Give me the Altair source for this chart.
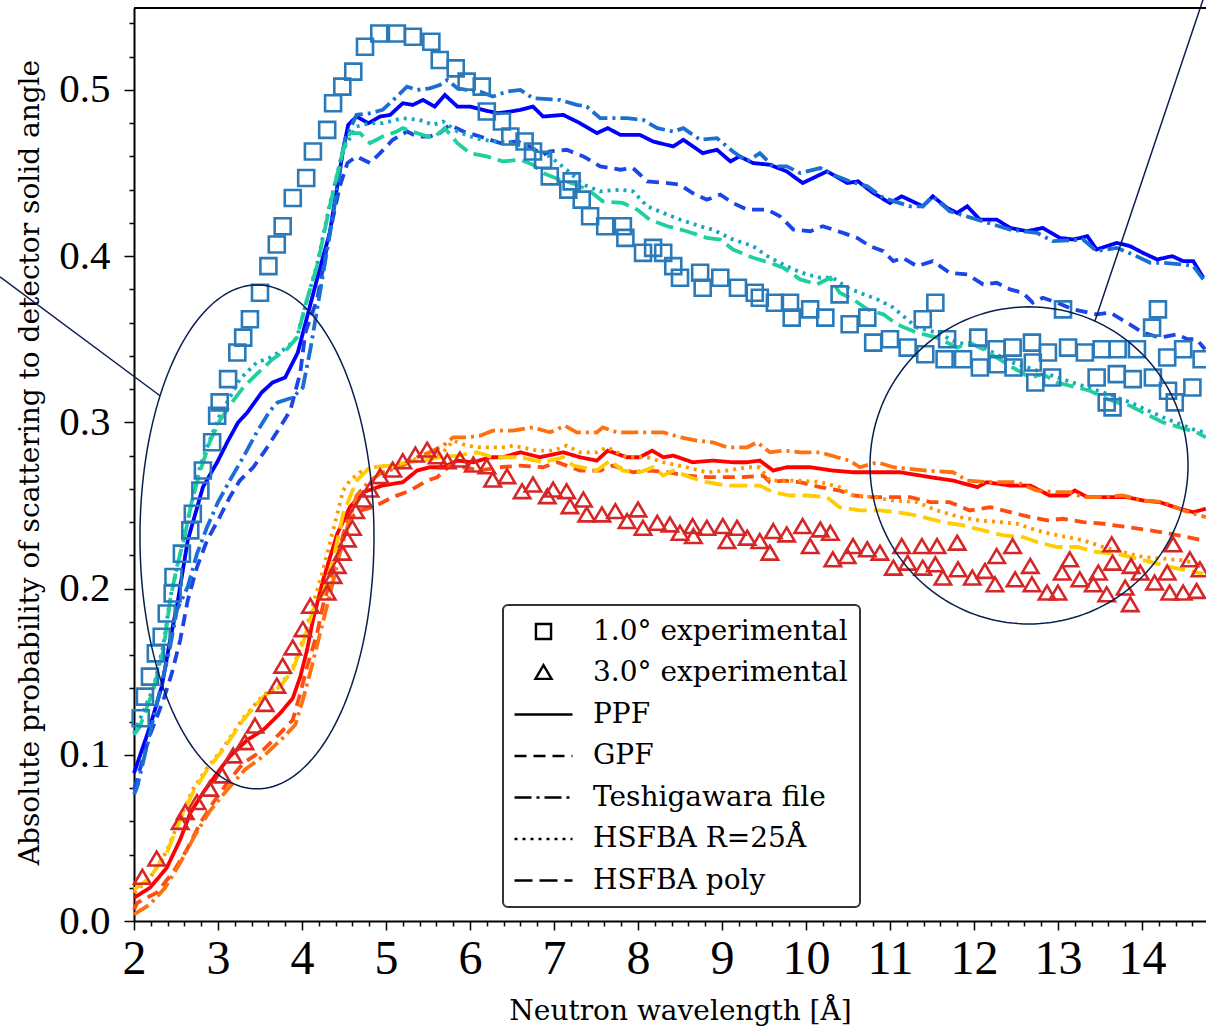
import math
import altair as alt
import pandas as pd

# ---------------- axes ----------------
X_DOMAIN = [2.0, 14.762]
Y_DOMAIN = [0.0, 0.5493]
X_TICKS = [round(2 + 0.2 * i, 1) for i in range(64)]      # 2.0 ... 14.6 (majors every 1)
Y_TICKS = [round(0.02 * i, 2) for i in range(28)]         # 0.00 ... 0.54 (majors every 0.1)
X_TITLE = "Neutron wavelength [Å]"
Y_TITLE = "Absolute probability of scattering to detector solid angle"

LEGEND_ORDER = ["1.0° experimental", "3.0° experimental", "PPF", "GPF",
                "Teshigawara file", "HSFBA R=25Å", "HSFBA poly"]
DASHES = [[1, 0], [1, 0], [1, 0], [12, 7], [17, 5, 3, 5], [3, 5], [18, 7]]
SHAPES = ["M-0.58,-0.58H0.58V0.58H-0.58Z", "M0,-0.6L0.62,0.45L-0.62,0.45Z",
          "M-2.23,0H2.23", "M-2.23,0H2.23", "M-2.23,0H2.23", "M-2.23,0H2.23", "M-2.23,0H2.23"]

# ---------------- data ----------------
SQUARES_1DEG = [
    (2.08, 0.122), (2.13, 0.135), (2.19, 0.147), (2.26, 0.161), (2.33, 0.171), (2.39, 0.185),
    (2.46, 0.197), (2.47, 0.207), (2.57, 0.221), (2.67, 0.235), (2.70, 0.245), (2.79, 0.259),
    (2.82, 0.271), (2.93, 0.288), (2.99, 0.304), (3.02, 0.312), (3.12, 0.326), (3.23, 0.342),
    (3.30, 0.351), (3.38, 0.362), (3.50, 0.378), (3.60, 0.394), (3.70, 0.407), (3.77, 0.418),
    (3.89, 0.435), (4.05, 0.447), (4.13, 0.463), (4.30, 0.476), (4.37, 0.492), (4.48, 0.502),
    (4.61, 0.511), (4.75, 0.526), (4.92, 0.534), (5.13, 0.534), (5.32, 0.532), (5.54, 0.529),
    (5.64, 0.518), (5.83, 0.513), (5.96, 0.505), (6.14, 0.502), (6.20, 0.487), (6.38, 0.481),
    (6.48, 0.472), (6.65, 0.469), (6.75, 0.463), (6.87, 0.458), (6.95, 0.448), (7.17, 0.440),
    (7.21, 0.445), (7.33, 0.434), (7.43, 0.424), (7.61, 0.418), (7.82, 0.418), (7.85, 0.411),
    (8.06, 0.402), (8.18, 0.405), (8.30, 0.402), (8.42, 0.394), (8.50, 0.387), (8.74, 0.390),
    (8.77, 0.381), (8.98, 0.387), (9.19, 0.381), (9.39, 0.378), (9.45, 0.375), (9.63, 0.372),
    (9.81, 0.372), (9.83, 0.363), (10.05, 0.368), (10.23, 0.363), (10.40, 0.377), (10.52, 0.359),
    (10.73, 0.363), (10.80, 0.348), (11.00, 0.350), (11.21, 0.345), (11.39, 0.362), (11.42, 0.341),
    (11.54, 0.372), (11.65, 0.338), (11.68, 0.350), (11.87, 0.338), (12.05, 0.351), (12.07, 0.333),
    (12.27, 0.344), (12.28, 0.335), (12.46, 0.345), (12.47, 0.333), (12.69, 0.348), (12.70, 0.336),
    (12.73, 0.324), (12.88, 0.342), (12.93, 0.327), (13.06, 0.368), (13.12, 0.345), (13.32, 0.342),
    (13.46, 0.327), (13.52, 0.344), (13.58, 0.312), (13.65, 0.309), (13.70, 0.329), (13.71, 0.344),
    (13.89, 0.326), (13.94, 0.344), (14.12, 0.357), (14.13, 0.327), (14.19, 0.368), (14.30, 0.339),
    (14.31, 0.319), (14.39, 0.312), (14.49, 0.344), (14.60, 0.321), (14.71, 0.338),
]

TRIANGLES_3DEG = [
    (2.10, 0.026), (2.27, 0.037), (2.55, 0.059), (2.61, 0.065), (2.75, 0.071), (2.90, 0.079),
    (3.05, 0.087), (3.18, 0.099), (3.32, 0.107), (3.44, 0.117), (3.56, 0.130), (3.70, 0.141),
    (3.77, 0.153), (3.89, 0.164), (4.01, 0.175), (4.10, 0.189), (4.30, 0.197), (4.37, 0.207),
    (4.42, 0.213), (4.48, 0.221), (4.54, 0.229), (4.60, 0.236), (4.64, 0.246), (4.73, 0.253),
    (4.81, 0.259), (4.93, 0.267), (5.08, 0.271), (5.20, 0.276), (5.35, 0.280), (5.49, 0.283),
    (5.61, 0.279), (5.73, 0.276), (5.88, 0.277), (6.04, 0.274), (6.20, 0.273), (6.27, 0.265),
    (6.44, 0.267), (6.62, 0.258), (6.75, 0.262), (6.92, 0.255), (6.99, 0.259), (7.15, 0.258),
    (7.19, 0.249), (7.35, 0.253), (7.39, 0.244), (7.57, 0.244), (7.73, 0.246), (7.87, 0.240),
    (8.00, 0.247), (8.06, 0.236), (8.23, 0.239), (8.38, 0.238), (8.50, 0.233), (8.65, 0.237),
    (8.66, 0.231), (8.82, 0.236), (9.01, 0.237), (9.06, 0.228), (9.18, 0.236), (9.30, 0.230),
    (9.45, 0.228), (9.57, 0.221), (9.61, 0.234), (9.77, 0.232), (9.96, 0.237), (10.05, 0.225),
    (10.17, 0.235), (10.29, 0.233), (10.32, 0.217), (10.49, 0.219), (10.56, 0.225), (10.73, 0.223),
    (10.88, 0.221), (11.04, 0.212), (11.14, 0.225), (11.21, 0.215), (11.38, 0.225), (11.39, 0.212),
    (11.56, 0.225), (11.54, 0.214), (11.63, 0.206), (11.80, 0.227), (11.81, 0.211), (11.98, 0.206),
    (12.13, 0.210), (12.25, 0.202), (12.27, 0.219), (12.46, 0.225), (12.49, 0.205), (12.67, 0.213),
    (12.69, 0.202), (12.87, 0.197), (13.00, 0.197), (13.05, 0.209), (13.14, 0.217), (13.26, 0.205),
    (13.42, 0.202), (13.48, 0.209), (13.58, 0.196), (13.64, 0.226), (13.65, 0.215), (13.80, 0.200),
    (13.86, 0.190), (13.87, 0.213), (13.98, 0.209), (14.15, 0.203), (14.30, 0.209), (14.33, 0.197),
    (14.37, 0.226), (14.49, 0.197), (14.57, 0.217), (14.65, 0.198), (14.69, 0.211),
]

B_PPF = [
    (2.00, 0.089), (2.19, 0.117), (2.33, 0.141), (2.43, 0.169), (2.52, 0.192), (2.64, 0.229),
    (2.73, 0.245), (2.82, 0.261), (2.99, 0.276), (3.12, 0.289), (3.24, 0.300), (3.35, 0.306),
    (3.52, 0.318), (3.65, 0.324), (3.80, 0.327), (3.95, 0.342), (4.10, 0.371), (4.21, 0.392),
    (4.33, 0.414), (4.49, 0.464), (4.55, 0.479), (4.65, 0.484), (4.79, 0.480), (4.93, 0.484),
    (5.05, 0.485), (5.20, 0.492), (5.32, 0.491), (5.44, 0.494), (5.58, 0.490), (5.70, 0.497),
    (5.85, 0.490), (6.00, 0.490), (6.15, 0.488), (6.33, 0.486), (6.48, 0.487), (6.60, 0.488),
    (6.75, 0.490), (6.87, 0.484), (7.11, 0.485), (7.31, 0.480), (7.51, 0.474), (7.64, 0.477),
    (7.79, 0.473), (8.02, 0.473), (8.18, 0.469), (8.42, 0.466), (8.54, 0.470), (8.77, 0.462),
    (8.94, 0.464), (9.10, 0.457), (9.21, 0.460), (9.37, 0.456), (9.57, 0.455), (9.77, 0.451),
    (9.96, 0.444), (10.25, 0.451), (10.49, 0.444), (10.62, 0.445), (10.80, 0.438), (11.00, 0.432),
    (11.14, 0.436), (11.39, 0.430), (11.51, 0.436), (11.68, 0.429), (11.80, 0.426), (11.92, 0.430),
    (12.07, 0.422), (12.27, 0.422), (12.43, 0.417), (12.63, 0.415), (12.82, 0.417), (13.02, 0.411),
    (13.18, 0.410), (13.35, 0.412), (13.46, 0.404), (13.70, 0.408), (13.86, 0.406), (14.01, 0.402),
    (14.18, 0.398), (14.36, 0.400), (14.49, 0.397), (14.61, 0.397), (14.73, 0.387),
]

B_GPF = [
    (2.00, 0.079), (2.19, 0.112), (2.35, 0.133), (2.45, 0.149), (2.55, 0.169), (2.64, 0.193),
    (2.75, 0.213), (2.87, 0.229), (3.02, 0.243), (3.14, 0.255), (3.26, 0.265), (3.42, 0.273),
    (3.56, 0.283), (3.70, 0.294), (3.86, 0.307), (3.98, 0.330), (4.04, 0.354), (4.18, 0.374),
    (4.33, 0.414), (4.45, 0.442), (4.54, 0.456), (4.65, 0.460), (4.81, 0.456), (4.93, 0.462),
    (5.08, 0.470), (5.25, 0.475), (5.37, 0.472), (5.52, 0.472), (5.64, 0.474), (5.76, 0.479),
    (5.92, 0.475), (6.12, 0.472), (6.36, 0.468), (6.56, 0.469), (6.71, 0.466), (6.87, 0.461),
    (6.95, 0.463), (7.15, 0.464), (7.35, 0.460), (7.55, 0.454), (7.79, 0.452), (7.94, 0.453),
    (8.11, 0.445), (8.35, 0.444), (8.50, 0.443), (8.65, 0.438), (8.82, 0.434), (8.98, 0.437),
    (9.13, 0.432), (9.30, 0.428), (9.54, 0.428), (9.69, 0.424), (9.85, 0.416), (10.05, 0.415),
    (10.20, 0.418), (10.44, 0.414), (10.61, 0.411), (10.76, 0.406), (10.92, 0.403), (11.04, 0.397),
    (11.15, 0.399), (11.32, 0.394), (11.51, 0.397), (11.71, 0.390), (11.92, 0.389), (12.11, 0.383),
    (12.27, 0.384), (12.43, 0.380), (12.58, 0.378), (12.70, 0.372), (12.82, 0.375), (12.99, 0.372),
    (13.18, 0.368), (13.46, 0.365), (13.62, 0.366), (13.82, 0.360), (14.01, 0.354), (14.21, 0.351),
    (14.42, 0.353), (14.54, 0.350), (14.65, 0.350), (14.75, 0.344),
]

B_TESH = [
    (2.00, 0.076), (2.04, 0.081), (2.19, 0.113), (2.33, 0.143), (2.43, 0.165), (2.51, 0.187),
    (2.64, 0.201), (2.75, 0.221), (2.87, 0.237), (3.00, 0.252), (3.14, 0.265), (3.30, 0.279),
    (3.46, 0.294), (3.62, 0.307), (3.71, 0.312), (3.89, 0.315), (4.01, 0.321), (4.10, 0.344),
    (4.21, 0.377), (4.37, 0.425), (4.51, 0.470), (4.65, 0.485), (4.81, 0.486), (4.96, 0.488),
    (5.13, 0.496), (5.25, 0.502), (5.37, 0.500), (5.52, 0.501), (5.64, 0.503), (5.73, 0.506),
    (5.85, 0.501), (5.96, 0.500), (6.12, 0.499), (6.27, 0.496), (6.44, 0.499), (6.60, 0.500),
    (6.75, 0.495), (7.07, 0.494), (7.27, 0.491), (7.39, 0.490), (7.55, 0.483), (7.87, 0.483),
    (8.06, 0.482), (8.23, 0.477), (8.42, 0.475), (8.54, 0.477), (8.74, 0.470), (8.94, 0.471),
    (9.13, 0.463), (9.30, 0.457), (9.45, 0.462), (9.61, 0.454), (9.77, 0.454), (9.93, 0.450),
    (10.17, 0.453), (10.32, 0.449), (10.52, 0.445), (10.73, 0.442), (10.92, 0.435), (11.24, 0.430),
    (11.39, 0.430), (11.51, 0.436), (11.71, 0.427), (12.04, 0.422), (12.43, 0.416), (12.75, 0.414),
    (12.94, 0.409), (13.30, 0.410), (13.46, 0.403), (13.70, 0.405), (13.89, 0.401), (14.10, 0.396),
    (14.25, 0.396), (14.49, 0.395), (14.61, 0.394), (14.73, 0.386),
]

B_R25 = [
    (2.00, 0.113), (2.23, 0.140), (2.35, 0.166), (2.43, 0.194), (2.61, 0.235), (2.79, 0.274),
    (2.90, 0.289), (3.02, 0.304), (3.26, 0.326), (3.46, 0.336), (3.62, 0.339), (3.82, 0.345),
    (3.94, 0.351), (4.06, 0.374), (4.18, 0.395), (4.33, 0.431), (4.49, 0.464), (4.65, 0.478),
    (4.81, 0.480), (4.96, 0.480), (5.20, 0.483), (5.40, 0.482), (5.56, 0.479), (5.68, 0.481),
    (5.85, 0.475), (6.00, 0.472), (6.15, 0.470), (6.32, 0.469), (6.48, 0.468), (6.71, 0.465),
    (6.95, 0.460), (7.15, 0.452), (7.35, 0.443), (7.55, 0.439), (7.79, 0.440), (7.94, 0.439),
    (8.11, 0.430), (8.30, 0.426), (8.50, 0.422), (8.74, 0.418), (8.89, 0.416), (9.13, 0.410),
    (9.37, 0.406), (9.54, 0.400), (9.69, 0.396), (9.85, 0.392), (10.01, 0.389), (10.17, 0.387),
    (10.32, 0.387), (10.49, 0.381), (10.64, 0.378), (10.85, 0.374), (11.04, 0.369), (11.32, 0.357),
    (11.56, 0.354), (11.80, 0.348), (12.11, 0.345), (12.46, 0.336), (12.82, 0.330), (13.23, 0.323),
    (13.54, 0.318), (13.86, 0.312), (14.25, 0.303), (14.65, 0.295), (14.76, 0.294),
]

B_POLY = [
    (2.00, 0.112), (2.07, 0.117), (2.23, 0.139), (2.35, 0.163), (2.43, 0.193), (2.51, 0.213),
    (2.61, 0.233), (2.69, 0.253), (2.79, 0.271), (2.90, 0.288), (3.02, 0.301), (3.18, 0.313),
    (3.30, 0.321), (3.46, 0.329), (3.65, 0.338), (3.82, 0.344), (3.94, 0.351), (4.06, 0.374),
    (4.18, 0.394), (4.33, 0.430), (4.49, 0.464), (4.57, 0.474), (4.69, 0.474), (4.81, 0.468),
    (4.96, 0.472), (5.13, 0.475), (5.20, 0.477), (5.37, 0.474), (5.56, 0.471), (5.70, 0.477),
    (5.85, 0.468), (6.00, 0.462), (6.20, 0.460), (6.39, 0.457), (6.60, 0.458), (6.75, 0.455),
    (6.87, 0.450), (7.07, 0.446), (7.27, 0.443), (7.43, 0.439), (7.58, 0.433), (7.82, 0.432),
    (7.99, 0.428), (8.14, 0.422), (8.35, 0.418), (8.58, 0.415), (8.82, 0.411), (8.98, 0.410),
    (9.13, 0.404), (9.37, 0.399), (9.57, 0.396), (9.73, 0.393), (9.93, 0.386), (10.13, 0.383),
    (10.29, 0.387), (10.40, 0.378), (10.56, 0.374), (10.73, 0.368), (10.92, 0.365), (11.08, 0.359),
    (11.32, 0.354), (11.56, 0.351), (11.80, 0.345), (11.95, 0.348), (12.11, 0.344), (12.27, 0.339),
    (12.46, 0.333), (12.67, 0.327), (12.82, 0.329), (12.99, 0.324), (13.23, 0.321), (13.38, 0.319),
    (13.54, 0.315), (13.70, 0.312), (13.86, 0.310), (14.01, 0.306), (14.25, 0.300), (14.45, 0.297),
    (14.65, 0.294), (14.76, 0.291),
]

R_PPF = [
    (2.00, 0.014), (2.19, 0.020), (2.39, 0.032), (2.55, 0.049), (2.67, 0.065), (2.82, 0.077),
    (2.99, 0.089), (3.14, 0.099), (3.35, 0.109), (3.54, 0.115), (3.74, 0.125), (3.89, 0.134),
    (3.98, 0.147), (4.06, 0.163), (4.13, 0.181), (4.25, 0.205), (4.42, 0.233), (4.57, 0.249),
    (4.73, 0.258), (4.96, 0.262), (5.20, 0.264), (5.37, 0.271), (5.52, 0.273), (5.68, 0.273),
    (5.85, 0.277), (6.04, 0.276), (6.24, 0.279), (6.39, 0.279), (6.60, 0.282), (6.83, 0.279),
    (7.11, 0.282), (7.31, 0.279), (7.51, 0.277), (7.64, 0.283), (7.87, 0.279), (8.02, 0.279),
    (8.17, 0.283), (8.30, 0.279), (8.42, 0.280), (8.65, 0.276), (8.89, 0.277), (9.13, 0.276),
    (9.30, 0.276), (9.45, 0.277), (9.61, 0.271), (9.77, 0.273), (10.05, 0.273), (10.32, 0.271),
    (10.56, 0.270), (10.88, 0.270), (11.12, 0.270), (11.48, 0.267), (11.75, 0.265), (12.04, 0.261),
    (12.15, 0.264), (12.43, 0.262), (12.67, 0.262), (12.90, 0.256), (13.11, 0.256), (13.20, 0.259),
    (13.35, 0.255), (13.62, 0.255), (13.82, 0.255), (14.01, 0.253), (14.21, 0.252), (14.45, 0.248),
    (14.61, 0.246), (14.76, 0.248),
]

R_GPF = [
    (2.00, 0.007), (2.04, 0.011), (2.27, 0.017), (2.46, 0.029), (2.63, 0.043), (2.79, 0.059),
    (2.94, 0.071), (3.11, 0.083), (3.30, 0.095), (3.54, 0.103), (3.74, 0.113), (3.89, 0.121),
    (3.98, 0.137), (4.06, 0.153), (4.18, 0.173), (4.25, 0.190), (4.37, 0.211), (4.45, 0.225),
    (4.54, 0.241), (4.69, 0.247), (4.85, 0.249), (5.08, 0.255), (5.29, 0.259), (5.49, 0.265),
    (5.61, 0.267), (5.76, 0.274), (5.92, 0.273), (6.12, 0.271), (6.36, 0.273), (6.60, 0.274),
    (6.87, 0.273), (7.04, 0.276), (7.31, 0.271), (7.55, 0.271), (7.70, 0.274), (7.94, 0.270),
    (8.14, 0.271), (8.35, 0.270), (8.58, 0.268), (8.82, 0.267), (9.06, 0.267), (9.25, 0.267),
    (9.49, 0.268), (9.57, 0.264), (9.73, 0.265), (9.93, 0.264), (10.17, 0.261), (10.40, 0.259),
    (10.56, 0.256), (10.76, 0.255), (11.00, 0.255), (11.24, 0.255), (11.48, 0.252), (11.71, 0.252),
    (11.95, 0.247), (12.19, 0.249), (12.43, 0.246), (12.67, 0.243), (12.87, 0.241), (13.06, 0.242),
    (13.30, 0.240), (13.54, 0.239), (13.82, 0.237), (14.10, 0.235), (14.33, 0.233), (14.54, 0.231),
    (14.73, 0.229),
]

R_TESH = [
    (2.00, 0.004), (2.19, 0.010), (2.37, 0.020), (2.55, 0.035), (2.73, 0.052), (2.90, 0.066),
    (3.11, 0.079), (3.32, 0.091), (3.56, 0.100), (3.77, 0.110), (3.92, 0.118), (4.01, 0.133),
    (4.10, 0.150), (4.21, 0.172), (4.33, 0.196), (4.45, 0.221), (4.54, 0.237), (4.65, 0.256),
    (4.81, 0.265), (4.96, 0.270), (5.17, 0.273), (5.37, 0.279), (5.52, 0.282), (5.68, 0.286),
    (5.80, 0.291), (5.96, 0.291), (6.12, 0.292), (6.27, 0.295), (6.51, 0.295), (6.75, 0.297),
    (6.95, 0.294), (7.13, 0.298), (7.27, 0.294), (7.51, 0.294), (7.58, 0.297), (7.75, 0.294),
    (8.02, 0.294), (8.30, 0.294), (8.50, 0.291), (8.70, 0.289), (8.89, 0.288), (9.06, 0.285),
    (9.30, 0.285), (9.42, 0.288), (9.57, 0.282), (9.73, 0.283), (9.93, 0.282), (10.17, 0.282),
    (10.37, 0.279), (10.52, 0.277), (10.64, 0.273), (10.85, 0.276), (11.04, 0.273), (11.44, 0.271),
    (11.75, 0.270), (11.92, 0.265), (12.19, 0.264), (12.51, 0.264), (12.75, 0.259), (12.99, 0.258),
    (13.14, 0.258), (13.30, 0.255), (13.54, 0.255), (13.77, 0.256), (14.01, 0.253), (14.25, 0.252),
    (14.49, 0.247), (14.76, 0.243),
]

R_R25 = [
    (2.00, 0.017), (2.19, 0.026), (2.39, 0.042), (2.55, 0.062), (2.70, 0.079), (2.87, 0.092),
    (3.06, 0.104), (3.30, 0.122), (3.54, 0.136), (3.74, 0.142), (3.89, 0.152), (4.01, 0.169),
    (4.13, 0.190), (4.25, 0.211), (4.37, 0.235), (4.49, 0.259), (4.57, 0.265), (4.69, 0.270),
    (4.85, 0.273), (5.05, 0.274), (5.25, 0.276), (5.40, 0.279), (5.56, 0.280), (5.68, 0.282),
    (5.80, 0.289), (5.96, 0.286), (6.12, 0.285), (6.27, 0.285), (6.44, 0.285), (6.51, 0.286),
    (6.80, 0.283), (6.99, 0.283), (7.15, 0.286), (7.31, 0.282), (7.51, 0.282), (7.63, 0.285),
    (7.87, 0.279), (8.11, 0.279), (8.30, 0.276), (8.58, 0.273), (8.82, 0.270), (9.06, 0.271),
    (9.30, 0.273), (9.45, 0.273), (9.57, 0.265), (9.73, 0.265), (9.93, 0.265), (10.17, 0.264),
    (10.40, 0.261), (10.56, 0.256), (10.80, 0.255), (11.04, 0.253), (11.32, 0.252), (11.56, 0.247),
    (11.83, 0.243), (12.07, 0.241), (12.31, 0.240), (12.51, 0.239), (12.75, 0.235), (12.90, 0.233),
    (13.11, 0.231), (13.30, 0.229), (13.54, 0.225), (13.77, 0.222), (14.01, 0.219), (14.25, 0.218),
    (14.49, 0.217), (14.73, 0.214),
]

R_POLY = [
    (2.00, 0.019), (2.19, 0.026), (2.39, 0.041), (2.55, 0.061), (2.70, 0.077), (2.87, 0.091),
    (3.06, 0.103), (3.30, 0.121), (3.54, 0.135), (3.74, 0.141), (3.89, 0.151), (4.01, 0.167),
    (4.13, 0.187), (4.25, 0.197), (4.37, 0.217), (4.49, 0.245), (4.65, 0.265), (4.81, 0.273),
    (5.05, 0.274), (5.25, 0.276), (5.44, 0.277), (5.64, 0.279), (5.85, 0.280), (6.08, 0.282),
    (6.27, 0.279), (6.39, 0.279), (6.60, 0.279), (6.87, 0.276), (7.11, 0.279), (7.23, 0.274),
    (7.51, 0.271), (7.67, 0.277), (7.82, 0.271), (8.02, 0.270), (8.18, 0.273), (8.30, 0.268),
    (8.42, 0.271), (8.62, 0.267), (8.82, 0.264), (9.06, 0.262), (9.30, 0.262), (9.45, 0.262),
    (9.61, 0.258), (9.81, 0.256), (10.01, 0.256), (10.25, 0.255), (10.40, 0.249), (10.64, 0.247),
    (10.88, 0.247), (11.08, 0.246), (11.32, 0.244), (11.63, 0.240), (11.87, 0.238), (12.11, 0.235),
    (12.35, 0.232), (12.58, 0.231), (12.75, 0.228), (12.99, 0.225), (13.23, 0.225), (13.46, 0.222),
    (13.70, 0.221), (13.94, 0.218), (14.18, 0.215), (14.33, 0.213), (14.61, 0.210), (14.73, 0.209),
]

# series name, legend entry, colour, points
LINE_SERIES = [
    ("1.0° PPF", "PPF", "#0000ff", B_PPF),
    ("1.0° GPF", "GPF", "#1c45e6", B_GPF),
    ("1.0° Teshigawara", "Teshigawara file", "#1a6fd2", B_TESH),
    ("1.0° HSFBA R=25", "HSFBA R=25Å", "#16a6c0", B_R25),
    ("1.0° HSFBA poly", "HSFBA poly", "#1fd09e", B_POLY),
    ("3.0° PPF", "PPF", "#ff0000", R_PPF),
    ("3.0° GPF", "GPF", "#ff4d12", R_GPF),
    ("3.0° Teshigawara", "Teshigawara file", "#ff700f", R_TESH),
    ("3.0° HSFBA R=25", "HSFBA R=25Å", "#ff9800", R_R25),
    ("3.0° HSFBA poly", "HSFBA poly", "#ffcc00", R_POLY),
]

# annotation ellipses (centre x, centre y, radius x, radius y) and connector lines
ELLIPSES = [(3.464, 0.2311, 1.393, 0.1516), (12.655, 0.2741, 1.893, 0.0954)]
CONNECTORS = [[(0.405, 0.3875), (2.31, 0.316)], [(13.44, 0.361), (14.726, 0.5542)]]
ANNOT_COLOR = "#0b1f4f"

# ---------------- tables ----------------
line_rows = []
for name, leg, col, pts in LINE_SERIES:
    for x, y in pts:
        line_rows.append({"x": x, "y": y, "series": name, "legend": leg})
df_lines = pd.DataFrame(line_rows)
df_sq = pd.DataFrame(SQUARES_1DEG, columns=["x", "y"]).assign(legend=LEGEND_ORDER[0])
df_tr = pd.DataFrame(TRIANGLES_3DEG, columns=["x", "y"]).assign(legend=LEGEND_ORDER[1])

ann_rows = []
for k, (cx, cy, rx, ry) in enumerate(ELLIPSES):
    for i in range(181):
        t = 2 * math.pi * i / 180
        ann_rows.append({"x": cx + rx * math.cos(t), "y": cy + ry * math.sin(t), "g": f"e{k}", "i": i})
for k, seg in enumerate(CONNECTORS):
    for i, (x, y) in enumerate(seg):
        ann_rows.append({"x": x, "y": y, "g": f"c{k}", "i": i})
df_ann = pd.DataFrame(ann_rows)

# ---------------- axes ----------------
X_MAJOR_TEST = "abs(datum.value - round(datum.value)) < 0.001"
Y_MAJOR_TEST = "abs(datum.value * 10 - round(datum.value * 10)) < 0.001"

x_axis = alt.Axis(
    values=X_TICKS,
    labelExpr=f"{X_MAJOR_TEST} ? format(datum.value, 'd') : ''",
    tickSize={"condition": {"test": X_MAJOR_TEST, "value": 9}, "value": 5},
    tickWidth=1.5, tickColor="black", domainColor="black", domainWidth=2,
    labelFont="Liberation Serif", labelFontSize=48, labelColor="black", labelPadding=5,
    labelOverlap=False, labelFlush=False, grid=False,
    title=X_TITLE, titleFont="DejaVu Serif", titleFontSize=28, titleFontWeight="normal",
    titleColor="black", titleX=546, titleY=98, titleAlign="center", titleBaseline="alphabetic",
)
y_axis = alt.Axis(
    values=Y_TICKS,
    labelExpr=f"{Y_MAJOR_TEST} ? format(datum.value, '.1f') : ''",
    tickSize={"condition": {"test": Y_MAJOR_TEST, "value": 10}, "value": 5},
    tickWidth=1.5, tickColor="black", domainColor="black", domainWidth=2,
    labelFont="Liberation Serif", labelFontSize=41, labelColor="black", labelPadding=14,
    labelOverlap=False, labelFlush=False, grid=False,
    title=Y_TITLE, titleFont="DejaVu Serif", titleFontSize=28, titleFontWeight="normal",
    titleColor="black", titleAngle=270, titleX=-104, titleY=454,
    titleAlign="center", titleBaseline="middle",
)

X_ENC = alt.X("x:Q", scale=alt.Scale(domain=X_DOMAIN, nice=False, zero=False), axis=x_axis)
Y_ENC = alt.Y("y:Q", scale=alt.Scale(domain=Y_DOMAIN, nice=False, zero=False), axis=y_axis)


def make_legend():
    return alt.Legend(
        title=None, orient="none", legendX=369, legendY=597, direction="vertical",
        symbolSize=676, symbolStrokeWidth=2.4, symbolOffset=14, labelOffset=35,
        symbolStrokeColor="black", symbolFillColor="transparent", symbolOpacity=1,
        labelFont="DejaVu Serif", labelFontSize=28, labelColor="black", labelLimit=0,
        rowPadding=12.5, padding=12, strokeColor="#333333", fillColor="white", cornerRadius=5,
    )


SHAPE_SCALE = alt.Scale(domain=LEGEND_ORDER, range=SHAPES)

squares = alt.Chart(df_sq).mark_point(
    filled=False, size=762, strokeWidth=2.6, color="#2a7ab9", opacity=1
).encode(x=X_ENC, y=Y_ENC, shape=alt.Shape("legend:N", scale=SHAPE_SCALE, legend=make_legend()))

triangles = alt.Chart(df_tr).mark_point(
    filled=False, size=700, strokeWidth=2.6, color="#d62728", opacity=1
).encode(x=X_ENC, y=Y_ENC, shape=alt.Shape("legend:N", scale=SHAPE_SCALE, legend=make_legend()))

lines = alt.Chart(df_lines).mark_line(strokeWidth=3.8).encode(
    x=X_ENC, y=Y_ENC,
    color=alt.Color("series:N",
                    scale=alt.Scale(domain=[s[0] for s in LINE_SERIES], range=[s[2] for s in LINE_SERIES]),
                    legend=None),
    strokeDash=alt.StrokeDash("legend:N", scale=alt.Scale(domain=LEGEND_ORDER, range=DASHES),
                              legend=make_legend()),
)

annot = alt.Chart(df_ann).mark_line(color=ANNOT_COLOR, strokeWidth=1.5).encode(
    x=X_ENC, y=Y_ENC, detail="g:N", order="i:Q"
)

top_spine = alt.Chart(df_sq).mark_rule(color="black", strokeWidth=2).encode(y=alt.value(0))

chart = alt.layer(lines, squares, triangles, annot, top_spine).properties(
    width=1072, height=913,
    padding={"left": 134, "top": 8, "right": 0, "bottom": 105},
    autosize=alt.AutoSizeParams(type="none"),
    background="white",
).configure_view(stroke=None).configure_legend(strokeWidth=2)

chart.save("out.html", embed_options={"renderer": "svg", "actions": False})
